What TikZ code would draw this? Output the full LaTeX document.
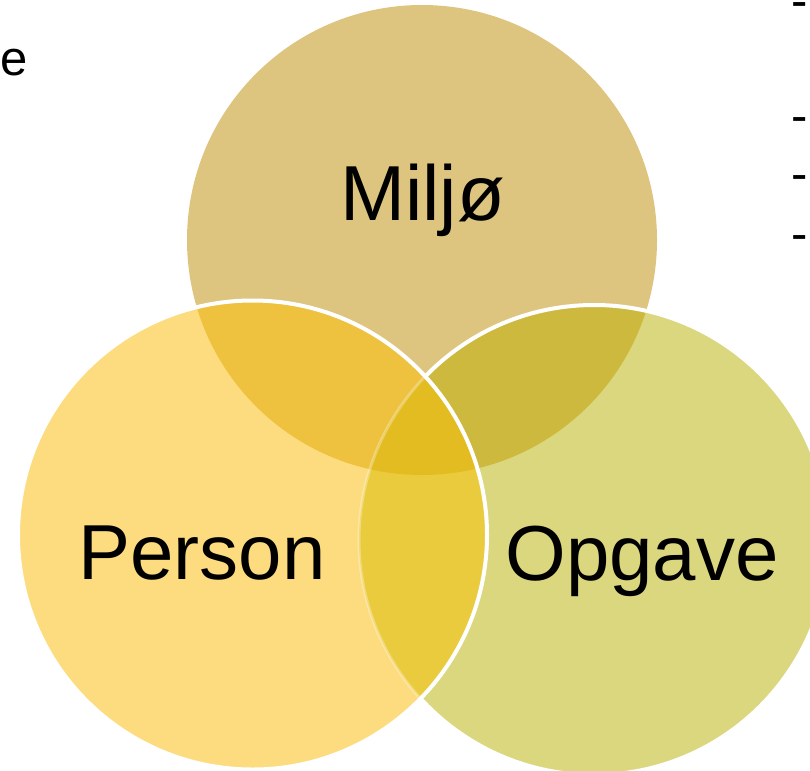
\documentclass[tikz,border=0pt]{standalone}
\usepackage{fontspec}
\setmainfont{Liberation Sans}
\definecolor{ctop}{HTML}{DEC57F}
\definecolor{cleft}{HTML}{FDDC7F}
\definecolor{cright}{HTML}{DBD77E}
\definecolor{ctl}{HTML}{EEC13F}
\definecolor{ctr}{HTML}{CCB93E}
\definecolor{clr}{HTML}{EBCB3E}
\definecolor{call}{HTML}{E3BC21}
\tikzset{
  bigword/.style={inner sep=0pt, anchor=base, font=\fontsize{78}{90}\selectfont},
  sidetext/.style={inner sep=0pt, anchor=base west, font=\fontsize{49}{58}\selectfont},
  rim/.style={draw=white, line width=4pt},
}
\def\TopC{(422,240) circle (235)}
\def\LeftC{(252.5,535) circle (234.5)}
\def\RightC{(594,540) circle (235)}
\begin{document}
\begin{tikzpicture}[x=1pt,y=-1pt]
\useasboundingbox (0,0) rectangle (810,770);
\begin{scope}
\clip (0,0) rectangle (810,770);
% single regions
\fill[ctop] \TopC;
\fill[cright] \RightC;
\fill[cleft] \LeftC;
% pairwise overlaps
\begin{scope}\clip \TopC; \fill[ctl] \LeftC; \end{scope}
\begin{scope}\clip \TopC; \fill[ctr] \RightC; \end{scope}
\begin{scope}\clip \LeftC; \fill[clr] \RightC; \end{scope}
% triple overlap
\begin{scope}\clip \TopC; \clip \LeftC; \fill[call] \RightC; \end{scope}
% outline of the right circle: faint inside the left circle
\begin{scope}\clip \LeftC; \draw[white, opacity=0.3, line width=3pt] \RightC; \end{scope}
\begin{scope}[even odd rule]
\clip (-50,-50) rectangle (900,900) \LeftC;
\path[rim] \RightC;
\end{scope}
% outline of the left circle
\path[rim] \LeftC;
\end{scope}
% labels
\node[bigword] (miljo) at (422.5,220) {Miljø};
\node[bigword] (person) at (202,579) {Person};
\node[bigword] (opgave) at (642,580) {Opgave};
% cut-off side text
\node[sidetext] (e) at (0,76) {e};
\node[sidetext] (d1) at (791,18) {-};
\node[sidetext] (d2) at (791,132.6) {-};
\node[sidetext] (d3) at (791,190.6) {-};
\node[sidetext] (d4) at (791,250.6) {-};
\end{tikzpicture}
\end{document}
